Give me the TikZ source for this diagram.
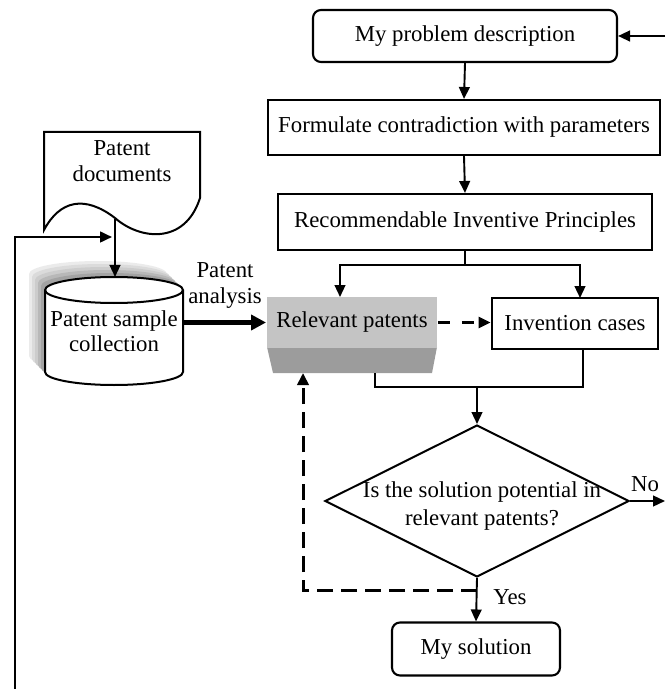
\documentclass[tikz,border=0pt]{standalone}
\usepackage{fontspec}
\setmainfont{Liberation Serif}
\usetikzlibrary{shapes.geometric,arrows.meta}
\definecolor{relgray}{HTML}{C4C4C4}
\definecolor{reldark}{HTML}{9C9C9C}
\begin{document}
\begin{tikzpicture}[x=0.5pt,y=-0.5pt,
  font=\fontsize{11.4}{13}\selectfont,
  line width=0.95pt,
  arr/.style={-{Triangle[length=6pt,width=5.4pt]}},
  thickarr/.style={line width=2.2pt,-{Triangle[length=7.5pt,width=7.5pt]}},
  dasharr/.style={line width=1.5pt,dash pattern=on 6pt off 6pt,-{Triangle[length=6pt,width=5.4pt]}},
  dashfb/.style={line width=1.5pt,dash pattern=on 8pt off 4pt,-{Triangle[length=6pt,width=5.6pt]}},
  box/.style={draw,line width=1.05pt,inner sep=0pt,align=center},
  txt/.style={align=center,inner sep=0pt}]
\useasboundingbox (0,0) rectangle (665,689);

% right column
\node[box,rounded corners=4pt,minimum width=152pt,minimum height=26pt] (prob) at (465,36) {My problem description};
\node[box,minimum width=196pt,minimum height=27.5pt] (form) at (464,127.5) {Formulate contradiction with parameters};
\node[box,minimum width=187pt,minimum height=28pt] (rec) at (465,222) {Recommendable Inventive Principles};
\fill[reldark] (267,347) -- (437,347) -- (432,373) -- (273,373) -- cycle;
\node[fill=relgray,inner sep=0pt,minimum width=85pt,minimum height=25.5pt] (rel) at (352,322.5) {Relevant patents};
\node[box,line width=1.4pt,minimum width=83pt,minimum height=25.5pt] (inv) at (575,323.5) {Invention cases};
\node[diamond,draw,line width=1pt,minimum width=152pt,minimum height=76pt,inner sep=0pt] (dia) at (477,501) {};
\node[txt,font=\fontsize{11.4}{14}\selectfont] (diat) at (482,506) {Is the solution potential in\\relevant patents?};
\node[box,rounded corners=4pt,minimum width=84pt,minimum height=26.5pt] (sol) at (476,649) {My solution};

% left column: document
\draw[line width=1pt,fill=white] (44,132) -- (200,132) -- (200,198)
  .. controls (185,245) and (140,240) .. (115,218)
  .. controls (85,195) and (60,200) .. (44,230) -- cycle;
\node[txt] (docs) at (122,161) {Patent\\documents};
\coordinate (docb) at (115,219);

% cylinder shadow (soft)
\foreach \o/\g in {16/8,13/14,10/20,7/28,4/36}{
  \fill[black!\g] (45-\o,290-\o) -- (45-\o,372-\o) arc[start angle=180,end angle=360,x radius=34.5pt,y radius=6.5pt] -- (183-\o,290-\o) arc[start angle=0,end angle=180,x radius=34.5pt,y radius=6.5pt] -- cycle;
}
% cylinder
\draw[line width=1pt,fill=white] (45,290) -- (45,372) arc[start angle=180,end angle=360,x radius=34.5pt,y radius=6.5pt] -- (183,290) arc[start angle=0,end angle=180,x radius=34.5pt,y radius=6.5pt] -- cycle;
\draw[line width=1pt] (45,290) arc[start angle=180,end angle=360,x radius=34.5pt,y radius=6.5pt];
\node[txt,font=\fontsize{11.4}{12.5}\selectfont] (cyl) at (114,331) {Patent sample\\collection};
\coordinate (cyltop) at (115,277);
\coordinate (cylr) at (183,322.5);

% connectors
\draw[arr] (docb) -- (cyltop);
\coordinate (lb) at (15,689);
\coordinate (lt) at (112,237);
\draw[line width=1.1pt,arr] (lb) |- (lt);
\draw[thickarr] (cylr) -- (rel.west);
\node[txt] (pa) at (225,285) {Patent\\analysis};

\coordinate (rin) at (665,36);
\draw[arr] (rin) -- (prob.east);
\draw[arr] (prob.south) -- (form.north);
\draw[arr] (form.south) -- (rec.north);
\coordinate (sp) at (465,265);
\coordinate (relin) at (340,297);
\coordinate (invin) at (580,298);
\draw (rec.south) -- (sp);
\draw[arr] (sp) -| (relin);
\draw[arr] (sp) -| (invin);
\draw[dasharr] (rel.east) -- (rel.east -| inv.west);

\coordinate (m1) at (375,373);
\coordinate (ml) at (375,387);
\coordinate (mr) at (583,387);
\coordinate (m2) at (583,349);
\coordinate (mj) at (477,387);
\draw (m1) -- (ml) -- (mr) -- (m2);
\draw[arr] (mj) -- (dia.north);

\coordinate (nout) at (665,501);
\draw[arr] (dia.east) -- (nout);
\node[txt] (no) at (645,484) {No};
\draw[arr] (dia.south) -- (sol.north);
\node[txt] (yes) at (510,597) {Yes};

\coordinate (fb) at (477,590);
\coordinate (fbt) at (303,373);
\draw[dashfb] (fb) -| (fbt);
\end{tikzpicture}
\end{document}
